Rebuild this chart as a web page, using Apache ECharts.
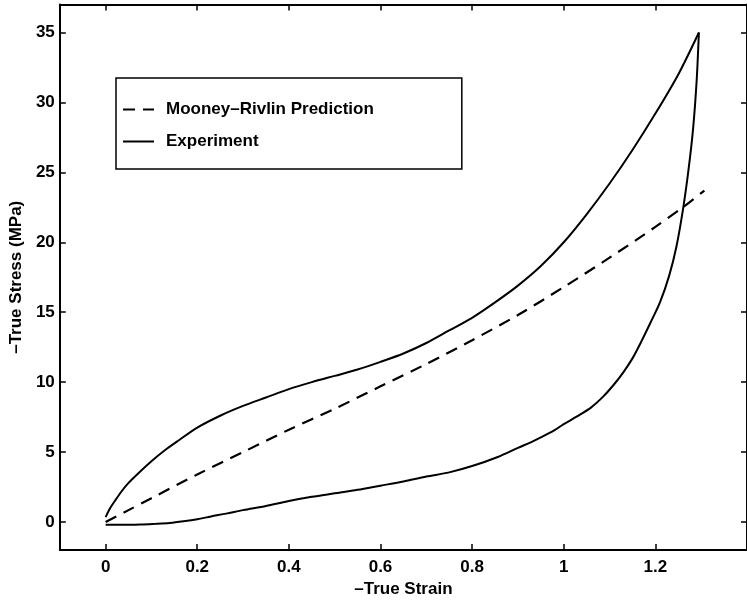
<!DOCTYPE html>
<html>
<head>
<meta charset="utf-8">
<script src="https://cdn.jsdelivr.net/npm/echarts@6/dist/echarts.min.js"></script>
<style>
  html, body { margin: 0; padding: 0; background: #fff; }
  #chart { width: 747px; height: 603px; }
</style>
</head>
<body>
<div id="chart"></div>
<script>
// Mooney–Rivlin model prediction (compression, true strain vs. true stress)
const mrStrain = [0, 0.05, 0.1, 0.2, 0.3, 0.4, 0.5, 0.6, 0.7, 0.8, 0.9, 1.0, 1.1, 1.2, 1.26, 1.307];
const mrStress = [0, 0.85, 1.7, 3.4, 5.0, 6.6, 8.1, 9.7, 11.3, 13.0, 14.8, 16.8, 18.9, 21.1, 22.5, 23.7];

// Measured loading branch
const loadStrain = [0, 0.01, 0.02, 0.035, 0.05, 0.075, 0.1, 0.13, 0.16, 0.2, 0.25, 0.3, 0.35, 0.4,
  0.45, 0.5, 0.55, 0.6, 0.65, 0.7, 0.75, 0.8, 0.85, 0.9, 0.95, 1.0, 1.05, 1.1, 1.15, 1.2, 1.25, 1.295];
const loadStress = [0.35, 1.0, 1.5, 2.2, 2.8, 3.6, 4.35, 5.15, 5.85, 6.75, 7.6, 8.3, 8.9, 9.5,
  10.0, 10.45, 10.9, 11.45, 12.05, 12.8, 13.7, 14.6, 15.7, 16.9, 18.3, 20.0, 22.0, 24.2, 26.6, 29.2, 32.0, 35.0];

// Measured unloading branch (starts at the peak)
const unloadStrain = [1.295, 1.29, 1.282, 1.272, 1.261, 1.246, 1.23, 1.21, 1.19, 1.17, 1.15, 1.13,
  1.11, 1.087, 1.06, 1.029, 1.0, 0.979, 0.95, 0.928, 0.9, 0.856, 0.8, 0.75, 0.7, 0.65, 0.6, 0.55,
  0.5, 0.45, 0.4, 0.35, 0.3, 0.263, 0.23, 0.2, 0.17, 0.14, 0.11, 0.08, 0.04, 0.0];
const unloadStress = [35.0, 31.5, 28.0, 25.1, 22.5, 19.7, 17.6, 15.7, 14.3, 12.95, 11.7, 10.7,
  9.85, 9.0, 8.2, 7.55, 7.0, 6.55, 6.05, 5.7, 5.3, 4.65, 4.0, 3.55, 3.25, 2.9, 2.6, 2.3,
  2.05, 1.8, 1.5, 1.15, 0.85, 0.6, 0.4, 0.2, 0.05, -0.07, -0.13, -0.17, -0.2, -0.2];

const xTicks = [0, 0.2, 0.4, 0.6, 0.8, 1, 1.2];
const yTicks = [0, 5, 10, 15, 20, 25, 30, 35];

const zip = (xs, ys) => xs.map((x, i) => [x, ys[i]]);

const FONT = 'Liberation Sans';
const txt = { color: '#000', fontFamily: FONT, fontWeight: 'bold', fontSize: 17 };

const grid = { left: 59.5, top: 4.5, width: 694, height: 550 };

const xBase = {
  type: 'value', min: -0.1, max: 1.4,
  splitLine: { show: false },
  axisLine: { show: true, onZero: false, lineStyle: { color: '#000', width: 2 } },
  axisTick: { show: true, inside: true, length: 6, customValues: xTicks, lineStyle: { color: '#000', width: 1.5 } }
};
const yBase = {
  type: 'value', min: -2, max: 37,
  splitLine: { show: false },
  axisLine: { show: true, onZero: false, lineStyle: { color: '#000', width: 2 } },
  axisTick: { show: true, inside: true, length: 6, customValues: yTicks, lineStyle: { color: '#000', width: 1.5 } }
};

const solid = { color: '#000', width: 2 };

const chart = echarts.init(document.getElementById('chart'), null, { renderer: 'canvas' });
chart.setOption({
  backgroundColor: '#fff',
  animation: false,
  grid: grid,
  xAxis: [
    Object.assign({}, xBase, {
      position: 'bottom',
      name: '\u2013True Strain', nameLocation: 'middle', nameGap: 31, nameTextStyle: txt,
      axisLabel: Object.assign({ margin: 9, customValues: xTicks, formatter: v => String(v) }, txt)
    }),
    Object.assign({}, xBase, { position: 'top', axisLabel: { show: false } })
  ],
  yAxis: [
    Object.assign({}, yBase, {
      position: 'left',
      name: '\u2013True Stress (MPa)', nameLocation: 'middle', nameGap: 27, nameTextStyle: txt,
      axisLabel: Object.assign({ margin: 5, customValues: yTicks }, txt)
    }),
    Object.assign({}, yBase, { position: 'right', axisLabel: { show: false } })
  ],
  legend: {
    orient: 'vertical',
    left: 116, top: 78,
    padding: [23, 88, 19, 6],
    itemGap: 15,
    itemWidth: 31, itemHeight: 16,
    borderColor: '#000', borderWidth: 1.5,
    backgroundColor: '#fff',
    selectedMode: false,
    itemStyle: { color: 'rgba(0,0,0,0)', borderColor: 'rgba(0,0,0,0)', borderWidth: 0, opacity: 0 },
    textStyle: Object.assign({ padding: [0, 0, 0, 7] }, txt),
    data: ['Mooney\u2013Rivlin Prediction', 'Experiment']
  },
  series: [
    {
      name: 'Mooney\u2013Rivlin Prediction', type: 'line', data: zip(mrStrain, mrStress),
      symbol: 'none', smooth: 0.3,
      lineStyle: { color: '#000', width: 2.2, type: [12, 8] },
      itemStyle: { color: '#000' }
    },
    {
      name: 'Experiment', type: 'line', data: zip(loadStrain, loadStress),
      symbol: 'none', smooth: 0.3,
      lineStyle: solid, itemStyle: { color: '#000' }
    },
    {
      name: 'Experiment', type: 'line', data: zip(unloadStrain, unloadStress),
      symbol: 'none', smooth: 0.3,
      lineStyle: solid, itemStyle: { color: '#000' }
    }
  ]
});
</script>
</body>
</html>
